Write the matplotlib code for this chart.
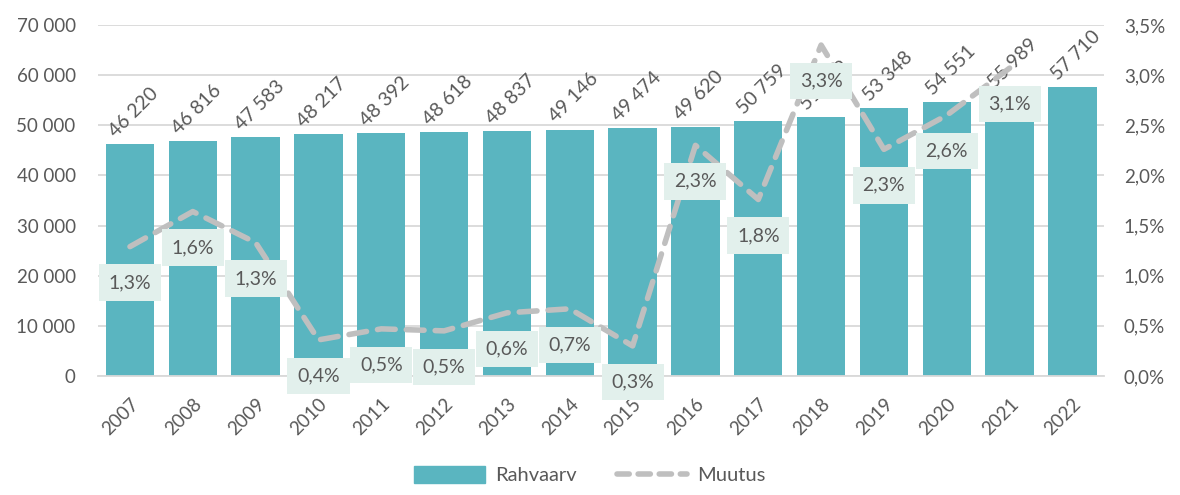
import matplotlib
matplotlib.use("Agg")
import matplotlib.pyplot as plt
from matplotlib.lines import Line2D
from matplotlib.patches import Patch
import numpy as np

# andmed
aastad = ['2007', '2008', '2009', '2010', '2011', '2012', '2013', '2014',
          '2015', '2016', '2017', '2018', '2019', '2020', '2021', '2022']
rahvaarv = [46220, 46816, 47583, 48217, 48392, 48618, 48837, 49146,
            49474, 49620, 50759, 51649, 53348, 54551, 55989, 57710]
muutus = [1.29, 1.64, 1.33, 0.36, 0.47, 0.45, 0.63, 0.67,
          0.30, 2.30, 1.76, 3.30, 2.26, 2.60, 3.07]
muutus_silt = ['1,3%', '1,6%', '1,3%', '0,4%', '0,5%', '0,5%', '0,6%', '0,7%',
               '0,3%', '2,3%', '1,8%', '3,3%', '2,3%', '2,6%', '3,1%']

plt.rcParams['font.family'] = ['Lato', 'DejaVu Sans']
tekst = '#595959'
bar_col = '#5AB5C0'
line_col = '#BFBFBF'
box_col = '#E2F0EC'

fig = plt.figure(figsize=(11.8, 4.95), dpi=100)
ax = fig.add_axes([0.083, 0.2404, 0.853, 0.7091])
ax2 = ax.twinx()

x = np.arange(len(aastad))
ax.bar(x, rahvaarv, width=0.77, color=bar_col, zorder=2)
for xi, v in zip(x, rahvaarv):
    s = f'{v:,}'.replace(',', ' ')
    ax.annotate(s, (xi, v), xytext=(-12, 4), textcoords='offset pixels',
                rotation=45, rotation_mode='anchor', ha='left', va='bottom',
                fontsize=14, color=tekst)

ax.set_ylim(0, 70000)
ax.set_yticks(np.arange(0, 70001, 10000))
ax.set_yticklabels([f'{v:,}'.replace(',', ' ') for v in range(0, 70001, 10000)])
ax.set_xlim(-0.51, 15.51)
ax.set_xticks(x)
ax.set_xticklabels(aastad, rotation=45, ha='right', rotation_mode='anchor')
ax.yaxis.grid(True, color='#D9D9D9', linewidth=1.3, zorder=0)
ax.set_axisbelow(True)
for sp in ['top', 'right', 'left']:
    ax.spines[sp].set_visible(False)
    ax2.spines[sp].set_visible(False)
ax.spines['bottom'].set_color('#D9D9D9')
ax.spines['bottom'].set_linewidth(1.3)
ax2.spines['bottom'].set_visible(False)
ax.tick_params(axis='both', length=0, labelsize=13.5, labelcolor=tekst)
ax.tick_params(axis='x', pad=14)
ax.tick_params(axis='y', pad=16)

ax2.plot(x[:len(muutus)], muutus, color=line_col, linewidth=4,
         dashes=(3.2, 2), dash_capstyle='round', zorder=3)
ax2.set_ylim(0, 3.5)
ax2.set_yticks(np.arange(0, 3.51, 0.5))
ax2.set_yticklabels([f'{v:.1f}%'.replace('.', ',') for v in np.arange(0, 3.51, 0.5)])
ax2.tick_params(axis='y', length=0, labelsize=13.5, labelcolor=tekst, pad=14)
ax2.set_zorder(ax.get_zorder() + 1)
ax2.patch.set_visible(False)

for xi, v, s in zip(x, muutus, muutus_silt):
    ax2.annotate(s, (xi, v), xytext=(0, -36), textcoords='offset pixels',
                 ha='center', va='center', fontsize=14, color=tekst, zorder=5,
                 bbox=dict(boxstyle='square,pad=0.5', fc=box_col, ec='none'))

handles = [Patch(color=bar_col, label='Rahvaarv'),
           Line2D([0], [0], color=line_col, linewidth=4, dashes=(2.2, 1.6),
                  dash_capstyle='round', label='Muutus')]
fig.legend(handles=handles, loc='lower center', bbox_to_anchor=(0.5, -0.015),
           ncol=2, frameon=False, fontsize=14.5, labelcolor=tekst,
           handlelength=3.5, handleheight=0.9, columnspacing=2.0,
           handletextpad=0.5)

fig.savefig('out.png', dpi=100)
